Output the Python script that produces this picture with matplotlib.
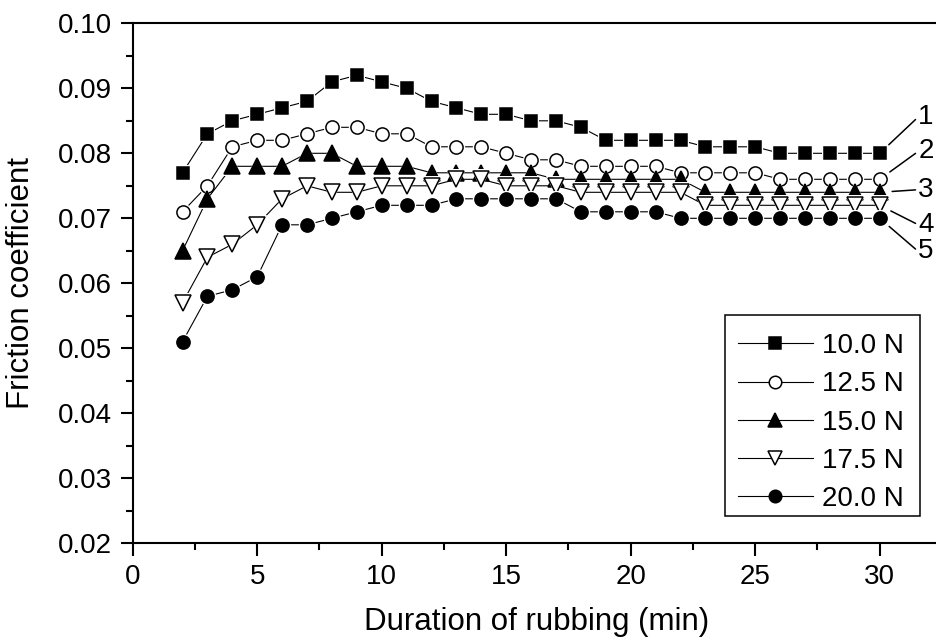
import matplotlib
matplotlib.use("Agg")
import matplotlib.pyplot as plt
from matplotlib.lines import Line2D
from matplotlib.patches import Rectangle
from matplotlib.ticker import MultipleLocator

plt.rcParams['font.family'] = ['Liberation Sans', 'DejaVu Sans']

# ---- data ----
duration = list(range(2, 31))
f_10_0 = [0.077, 0.083, 0.085, 0.086, 0.087, 0.088, 0.091, 0.092, 0.091, 0.090,
          0.088, 0.087, 0.086, 0.086, 0.085, 0.085, 0.084, 0.082, 0.082, 0.082,
          0.082, 0.081, 0.081, 0.081, 0.080, 0.080, 0.080, 0.080, 0.080]
f_12_5 = [0.071, 0.075, 0.081, 0.082, 0.082, 0.083, 0.084, 0.084, 0.083, 0.083,
          0.081, 0.081, 0.081, 0.080, 0.079, 0.079, 0.078, 0.078, 0.078, 0.078,
          0.077, 0.077, 0.077, 0.077, 0.076, 0.076, 0.076, 0.076, 0.076]
f_15_0 = [0.065, 0.073, 0.078, 0.078, 0.078, 0.080, 0.080, 0.078, 0.078, 0.078,
          0.077, 0.077, 0.077, 0.077, 0.077, 0.076, 0.076, 0.076, 0.076, 0.076,
          0.076, 0.074, 0.074, 0.074, 0.074, 0.074, 0.074, 0.074, 0.074]
f_17_5 = [0.057, 0.064, 0.066, 0.069, 0.073, 0.075, 0.074, 0.074, 0.075, 0.075,
          0.075, 0.076, 0.076, 0.075, 0.075, 0.075, 0.074, 0.074, 0.074, 0.074,
          0.074, 0.072, 0.072, 0.072, 0.072, 0.072, 0.072, 0.072, 0.072]
f_20_0 = [0.051, 0.058, 0.059, 0.061, 0.069, 0.069, 0.070, 0.071, 0.072, 0.072,
          0.072, 0.073, 0.073, 0.073, 0.073, 0.073, 0.071, 0.071, 0.071, 0.071,
          0.070, 0.070, 0.070, 0.070, 0.070, 0.070, 0.070, 0.070, 0.070]
series = [f_10_0, f_12_5, f_15_0, f_17_5, f_20_0]
legend_labels = ['10.0 N', '12.5 N', '15.0 N', '17.5 N', '20.0 N']
curve_numbers = ['1', '2', '3', '4', '5']
curve_number_y = [0.0856, 0.0803, 0.0744, 0.0690, 0.0649]

x_ticks = [0, 5, 10, 15, 20, 25, 30]
y_ticks = [0.02, 0.03, 0.04, 0.05, 0.06, 0.07, 0.08, 0.09, 0.10]

# ---- styles ----
markers = ['s', 'o', '^', 'v', 'o']
faces = ['black', 'white', 'black', 'white', 'black']
sizes = [9, 9.5, 11, 11, 9.5]

W, H = 936, 639
fig = plt.figure(figsize=(W / 100, H / 100), dpi=100)
ax_left, ax_bottom = 132.7 / W, (H - 543.3) / H
ax_w, ax_h = 33 * 24.9 / W, 520 / H
ax = fig.add_axes([ax_left, ax_bottom, ax_w, ax_h])

handles = []
for i, (vals, m, fc, ms, lab) in enumerate(zip(series, markers, faces, sizes, legend_labels)):
    z = 2 + i * 3
    ax.plot(duration, vals, '-', color='black', lw=0.8, zorder=z)
    ax.plot(duration, vals, ls='none', marker=m, ms=ms + 3, mfc='white', mec='white',
            mew=0, zorder=z + 1)
    ax.plot(duration, vals, ls='none', marker=m, ms=ms, mfc=fc, mec='black',
            mew=1.1, zorder=z + 2)
    handles.append(Line2D([], [], color='black', lw=0.8, marker=m, ms=ms - 0.5,
                          mfc=fc, mec='black', mew=1.1, label=lab))

# curve numbers with leader lines
for vals, num, ny in zip(series, curve_numbers, curve_number_y):
    ax.annotate(num, xy=(duration[-1], vals[-1]), xytext=(31.55, ny),
                textcoords='data', ha='left', va='center', fontsize=20,
                annotation_clip=False,
                arrowprops=dict(arrowstyle='-', color='black', lw=1.1,
                                shrinkA=0, shrinkB=9, relpos=(0.0, 0.5)))

ax.set_xlim(0, 33)
ax.set_ylim(0.02, 0.10)
ax.set_xticks(x_ticks)
ax.set_yticks(y_ticks)
ax.set_yticklabels([f'{v:.2f}' for v in y_ticks])
ax.xaxis.set_minor_locator(MultipleLocator(2.5))
ax.yaxis.set_minor_locator(MultipleLocator(0.005))

ax.spines['right'].set_visible(False)
for s in ['left', 'bottom', 'top']:
    ax.spines[s].set_linewidth(1.5)
ax.tick_params(which='major', direction='out', length=9, width=1.5, labelsize=20)
ax.tick_params(which='minor', direction='out', length=5, width=1.5)
ax.tick_params(axis='y', which='major', pad=6)
ax.tick_params(axis='x', which='major', pad=6)

ax.set_xlabel('Duration of rubbing (min)', fontsize=22.5, va='top')
ax.xaxis.set_label_coords(0.492, -0.123)
ax.set_ylabel('Friction coefficient', fontsize=22.5)
ax.yaxis.set_label_coords(-0.118, 0.5)

# legend (entries) + separate frame box
leg = ax.legend(handles=handles, loc='upper left', bbox_to_anchor=(0.7366, 0.404),
                fontsize=20, frameon=False,
                handlelength=2.7, handletextpad=0.32, labelspacing=0.44,
                borderpad=0, borderaxespad=0, numpoints=1)
leg.set_zorder(31)
ax.add_patch(Rectangle((0.7208, 0.0531), 0.9581 - 0.7208, 0.439 - 0.0531,
                       transform=ax.transAxes, facecolor='white', edgecolor='black',
                       lw=1.1, zorder=30))

fig.savefig('out.png', dpi=100)
